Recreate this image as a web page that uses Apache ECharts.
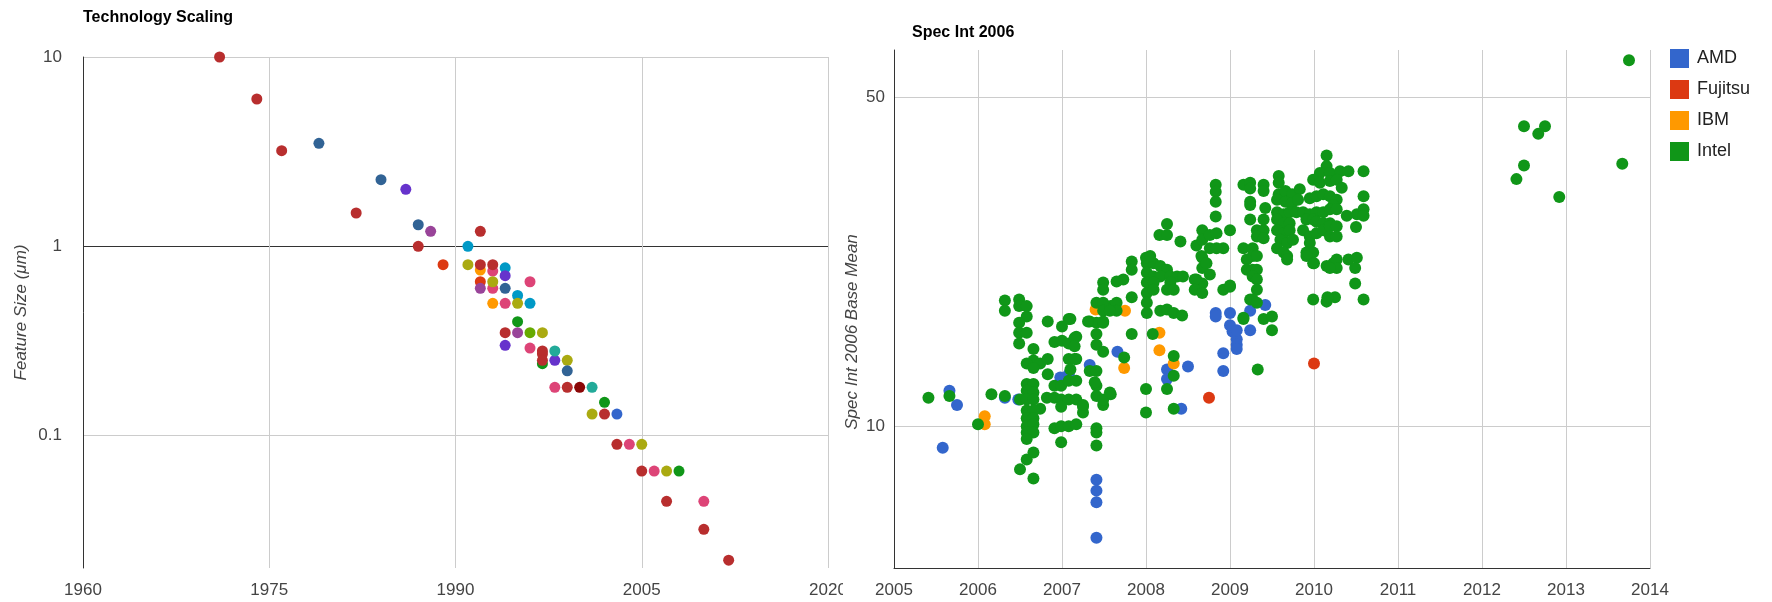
<!DOCTYPE html>
<html>
<head>
<meta charset="utf-8">
<script src="https://cdn.jsdelivr.net/npm/echarts@6/dist/echarts.min.js"></script>
<style>
  html, body { margin: 0; padding: 0; background: #fff; }
  .box { display: flex; width: 1772px; height: 602px; }
  #scaling { width: 843px; height: 602px; }
  #spec { width: 929px; height: 602px; }
</style>
</head>
<body>
<div class="box">
  <div id="scaling"></div>
  <div id="spec"></div>
</div>
<script>
// ---- Technology Scaling: [year, feature size in um], one array per colour ----
const green = [[1995, 0.4], [1997, 0.24], [2002, 0.15], [2008, 0.065]];
const orange = [[1992, 0.75], [1993, 0.5]];
const pink = [[1993, 0.74], [1993, 0.6], [1996, 0.65], [1994, 0.5], [1996, 0.29], [1998, 0.18], [2004, 0.09], [2006, 0.065], [2010, 0.045]];
const cyan = [[1991, 1.0], [1994, 0.77], [1995, 0.55], [1996, 0.5]];
const violet = [[1986, 2], [1994, 0.7], [1994, 0.3], [1998, 0.25]];
const redOrange = [[1989, 0.8], [1992, 0.65]];
const plum = [[1988, 1.2], [1992, 0.6], [1995, 0.35]];
const olive = [[1991, 0.8], [1993, 0.65], [1995, 0.5], [1997, 0.35], [1999, 0.25], [2001, 0.13], [2005, 0.09], [2007, 0.065]];
const steelBlue = [[1979, 3.5], [1984, 2.25], [1987, 1.3], [1994, 0.6], [1999, 0.22]];
const teal = [[1998, 0.28], [2001, 0.18]];
const lime = [[1996, 0.35]];
const maroon = [[2000, 0.18]];
const blue = [[2003, 0.13]];
const darkRed = [[1971, 10], [1974, 6], [1976, 3.2], [1982, 1.5], [1987, 1.0], [1992, 1.2], [1992, 0.8], [1993, 0.8],
  [1994, 0.35], [1997, 0.28], [1997, 0.27], [1997, 0.25], [1999, 0.18], [2002, 0.13], [2003, 0.09], [2005, 0.065],
  [2007, 0.045], [2010, 0.032], [2012, 0.022]];

const scalingTicks = [0.1, 1, 10];

// ---- Spec Int 2006: [year, base mean] ----
const amd = [[2005.58, 9.0], [2005.66, 11.9], [2005.75, 11.1], [2006.32, 11.5], [2006.48, 11.4], [2006.98, 12.7],
  [2007.08, 12.9], [2007.33, 13.5], [2007.41, 7.7], [2007.41, 7.3], [2007.41, 6.9], [2007.41, 5.8], [2007.66, 14.4],
  [2008.25, 13.2], [2008.25, 12.6], [2008.42, 10.9], [2008.5, 13.4], [2008.83, 17.4], [2008.83, 17.1], [2008.92, 14.3],
  [2008.92, 13.1], [2009.0, 17.4], [2009.0, 16.4], [2009.03, 15.9], [2009.08, 15.3], [2009.08, 14.9], [2009.08, 14.6],
  [2009.08, 16.0], [2009.24, 17.6], [2009.24, 16.0], [2009.42, 18.1]];
const fujitsu = [[2008.75, 11.5], [2010.0, 13.6]];
const ibm = [[2006.08, 10.5], [2006.08, 10.1], [2007.4, 17.7], [2007.75, 17.6], [2007.74, 13.3], [2008.16, 15.8],
  [2008.16, 14.5], [2008.33, 13.6]];
const intel = [
  [2005.41, 11.5], [2005.66, 11.6], [2006.0, 10.1], [2006.16, 11.7], [2006.32, 11.6],
  [2006.32, 18.5], [2006.32, 17.6], [2006.49, 18.6], [2006.49, 18.0], [2006.58, 18.0], [2006.58, 17.1], [2006.49, 16.6],
  [2006.49, 15.8], [2006.58, 15.8], [2006.49, 15.0],
  [2006.66, 14.6], [2006.66, 13.8], [2006.58, 13.6], [2006.74, 13.6], [2006.66, 13.3],
  [2006.58, 12.3], [2006.66, 12.3], [2006.58, 11.9], [2006.66, 11.8], [2006.5, 11.4], [2006.58, 11.4], [2006.66, 11.4],
  [2006.74, 10.9], [2006.58, 10.8], [2006.66, 10.8], [2006.58, 10.4], [2006.66, 10.4], [2006.58, 10.0], [2006.66, 10.1],
  [2006.58, 9.7], [2006.66, 9.7], [2006.58, 9.4], [2006.58, 8.5], [2006.66, 8.8], [2006.5, 8.1], [2006.66, 7.75],
  [2006.83, 16.7], [2006.83, 13.9], [2006.83, 12.9], [2006.91, 15.1], [2007.0, 15.2], [2007.08, 15.0], [2007.17, 15.5],
  [2007.08, 16.9], [2007.0, 16.3], [2007.08, 13.9], [2007.17, 13.9],
  [2006.82, 11.5], [2006.91, 11.5], [2006.99, 11.4], [2007.08, 11.4], [2007.17, 11.4], [2007.25, 11.0], [2007.25, 10.7],
  [2006.91, 12.2], [2006.99, 12.2], [2007.08, 12.5], [2007.17, 12.5], [2006.99, 11.0],
  [2006.91, 9.9], [2006.99, 10.0], [2007.08, 10.0], [2007.17, 10.1], [2006.99, 9.25],
  [2007.15, 15.4], [2007.15, 14.8], [2007.1, 16.9], [2007.15, 13.9], [2007.1, 13.2],
  [2007.41, 12.2], [2007.41, 11.6], [2007.49, 11.1], [2007.41, 9.9], [2007.41, 9.7], [2007.41, 9.1], [2007.33, 13.1],
  [2007.41, 13.1], [2007.33, 16.7], [2007.41, 16.6], [2007.49, 16.6], [2007.41, 15.7], [2007.41, 14.9], [2007.49, 14.4],
  [2007.58, 11.7], [2007.39, 12.4], [2007.49, 11.4], [2007.57, 11.8], [2007.25, 11.1],
  [2007.41, 18.3], [2007.49, 18.0], [2007.58, 18.0], [2007.65, 18.3], [2007.49, 18.3], [2007.65, 17.6], [2007.49, 17.6],
  [2007.57, 17.6], [2007.31, 16.7], [2007.49, 16.7], [2007.49, 20.2], [2007.49, 19.5], [2007.73, 20.5], [2007.65, 20.3],
  [2007.83, 15.7], [2007.74, 14.0], [2007.83, 22.4], [2007.83, 21.5], [2007.83, 18.8],
  [2008.0, 12.0], [2008.0, 10.7], [2008.08, 15.7], [2008.33, 14.1], [2008.25, 12.0], [2008.33, 12.8], [2008.33, 10.9],
  [2008.01, 22.2], [2008.09, 22.2], [2008.17, 21.9], [2008.25, 21.5], [2008.01, 21.2], [2008.09, 20.8], [2008.17, 20.8],
  [2008.29, 20.8], [2008.37, 20.8], [2008.44, 20.8], [2008.01, 20.2], [2008.09, 20.2], [2008.29, 20.2], [2008.01, 19.2],
  [2008.09, 19.5], [2008.25, 19.5], [2008.33, 19.5], [2008.01, 18.3], [2008.01, 17.4], [2008.17, 17.6], [2008.25, 17.7],
  [2008.33, 17.4], [2008.43, 17.2], [2008.0, 22.8], [2008.05, 23.0],
  [2008.25, 26.9], [2008.16, 25.5], [2008.25, 25.5], [2008.41, 24.7],
  [2008.83, 32.6], [2008.83, 31.5], [2008.83, 30.0], [2008.83, 27.9], [2009.0, 26.1], [2008.67, 26.1], [2008.6, 24.2],
  [2008.67, 24.9], [2008.76, 25.5], [2008.84, 25.7], [2008.92, 23.9], [2008.67, 22.8], [2008.67, 21.7], [2008.76, 21.0],
  [2008.67, 20.1], [2008.6, 20.5], [2009.0, 19.8], [2008.92, 19.5], [2008.66, 23.0], [2008.72, 22.2], [2008.76, 23.9],
  [2008.84, 23.9], [2008.58, 20.5], [2008.58, 19.5], [2008.67, 19.2],
  [2009.16, 32.6], [2009.24, 32.9], [2009.24, 32.0], [2009.4, 32.6], [2009.4, 31.6], [2009.24, 30.0], [2009.24, 29.5],
  [2009.42, 29.1], [2009.24, 27.5], [2009.4, 27.5], [2009.16, 23.9], [2009.2, 22.6], [2009.2, 21.5], [2009.16, 16.9],
  [2009.24, 18.6],
  [2009.32, 26.1], [2009.4, 26.1], [2009.32, 25.3], [2009.4, 25.1], [2009.27, 23.9], [2009.27, 23.0], [2009.32, 23.0],
  [2009.27, 21.5], [2009.32, 21.5], [2009.27, 20.8], [2009.32, 20.5], [2009.32, 19.5], [2009.27, 18.6], [2009.32, 18.3],
  [2009.0, 19.9], [2009.16, 17.0], [2009.4, 16.9], [2009.5, 17.1], [2009.5, 16.0], [2009.33, 13.2],
  [2009.58, 34.0], [2009.58, 32.9], [2009.58, 31.1], [2009.66, 31.6], [2009.74, 31.1], [2009.83, 31.9],
  [2009.56, 30.3], [2009.66, 30.0], [2009.74, 29.8], [2009.81, 30.3], [2009.95, 30.5], [2010.03, 30.8], [2010.11, 31.1],
  [2010.19, 30.8], [2010.27, 30.3], [2010.23, 29.5],
  [2009.56, 28.5], [2009.64, 28.2], [2009.71, 28.5], [2009.79, 28.5], [2009.87, 28.5], [2009.95, 28.2], [2010.03, 28.5],
  [2010.11, 28.5], [2010.19, 28.9], [2010.27, 28.9],
  [2009.56, 27.5], [2009.64, 27.0], [2009.71, 27.0], [2009.91, 27.5], [2009.99, 27.5], [2010.03, 27.2], [2010.11, 27.0],
  [2010.19, 27.0],
  [2009.56, 26.1], [2009.64, 25.7], [2009.71, 26.1], [2009.87, 26.1], [2009.95, 25.3], [2010.03, 25.7], [2010.11, 26.1],
  [2010.19, 26.6], [2010.27, 26.6], [2010.19, 25.3], [2010.27, 25.3],
  [2009.6, 24.9], [2009.68, 24.5], [2009.75, 24.9], [2009.95, 24.5], [2009.56, 23.9], [2009.64, 23.4], [2009.68, 23.0],
  [2009.91, 23.4], [2009.99, 23.4], [2009.91, 23.0], [2009.68, 22.6], [2009.99, 22.2], [2010.15, 21.9], [2010.23, 22.2],
  [2010.15, 37.6], [2010.15, 35.7], [2010.07, 34.5], [2010.19, 34.5], [2010.31, 34.8], [2010.41, 34.8], [2010.59, 34.8],
  [2009.99, 33.4], [2010.07, 32.9], [2010.19, 33.2], [2010.27, 33.4], [2010.33, 32.1],
  [2010.59, 30.8], [2010.39, 28.0], [2010.51, 28.2], [2010.59, 28.9], [2010.59, 28.0], [2010.5, 26.5], [2010.41, 22.6],
  [2010.51, 22.8], [2010.49, 21.7], [2010.49, 20.1], [2010.27, 22.6], [2010.27, 21.7], [2010.19, 21.7], [2010.0, 22.2],
  [2009.99, 18.6], [2010.15, 18.4], [2010.25, 18.8], [2010.59, 18.6], [2010.16, 18.8],
  [2012.5, 43.4], [2012.75, 43.4], [2012.67, 41.8], [2012.5, 35.8], [2012.41, 33.5], [2012.92, 30.7], [2013.75, 59.9],
  [2013.67, 36.1]
];

const specTicks = [10, 50];
const vendors = ['AMD', 'Fujitsu', 'IBM', 'Intel'];

const font = 'Liberation Sans, Arial, sans-serif';
const labelStyle = { fontFamily: font, fontSize: 17, color: '#444' };

// left chart
const scalingGroups = [
  { name: 'green', color: '#109618', data: green },
  { name: 'orange', color: '#ff9900', data: orange },
  { name: 'pink', color: '#dd4477', data: pink },
  { name: 'cyan', color: '#0099c6', data: cyan },
  { name: 'violet', color: '#6633cc', data: violet },
  { name: 'redOrange', color: '#dc3912', data: redOrange },
  { name: 'plum', color: '#994499', data: plum },
  { name: 'olive', color: '#aaaa11', data: olive },
  { name: 'steelBlue', color: '#316395', data: steelBlue },
  { name: 'teal', color: '#22aa99', data: teal },
  { name: 'lime', color: '#66aa00', data: lime },
  { name: 'maroon', color: '#8b0707', data: maroon },
  { name: 'blue', color: '#3366cc', data: blue },
  { name: 'darkRed', color: '#b82e2e', data: darkRed }
];

const scaling = echarts.init(document.getElementById('scaling'));
scaling.setOption({
  animation: false,
  title: {
    text: 'Technology Scaling', left: 78, top: 5,
    textStyle: { fontFamily: font, fontSize: 16, fontWeight: 'bold', color: '#000' }
  },
  grid: { left: 83, top: 57, width: 745, height: 511, outerBoundsMode: 'none' },
  xAxis: {
    type: 'value', min: 1960, max: 2020, interval: 15,
    axisLine: { show: false },
    axisTick: { show: false },
    axisLabel: Object.assign({ margin: 14, formatter: v => String(v) }, labelStyle),
    splitLine: { show: true, lineStyle: { color: '#ccc', width: 1 } }
  },
  yAxis: {
    type: 'log', min: 0.02, max: 10,
    name: 'Feature Size (μm)', nameLocation: 'middle', nameGap: 53, nameMoveOverlap: false,
    nameTextStyle: { fontFamily: font, fontSize: 17, fontStyle: 'italic', color: '#444' },
    axisLine: { show: true, onZero: false, lineStyle: { color: '#333', width: 1 } },
    axisTick: { show: false, customValues: scalingTicks },
    axisLabel: Object.assign({ margin: 21, customValues: scalingTicks, formatter: v => String(v) }, labelStyle),
    splitLine: { show: true, lineStyle: { color: ['#ccc', '#333', '#ccc'], width: 1 } }
  },
  series: scalingGroups.map(g => ({
    type: 'scatter', name: g.name, data: g.data, symbolSize: 11,
    itemStyle: { color: g.color, opacity: 1 }
  }))
});

// right chart
const spec = echarts.init(document.getElementById('spec'));
const vendorData = [amd, fujitsu, ibm, intel];
const vendorColors = ['#3366cc', '#dc3912', '#ff9900', '#109618'];
spec.setOption({
  animation: false,
  title: {
    text: 'Spec Int 2006', left: 64, top: 20,
    textStyle: { fontFamily: font, fontSize: 16, fontWeight: 'bold', color: '#000' }
  },
  legend: {
    orient: 'vertical', left: 822, top: 44, icon: 'rect',
    itemWidth: 19, itemHeight: 19, itemGap: 12,
    textStyle: { fontFamily: font, fontSize: 18, color: '#222', padding: [0, 0, 0, 3] },
    data: vendors
  },
  grid: { left: 51, top: 50, width: 756, height: 518, outerBoundsMode: 'none' },
  xAxis: {
    type: 'value', min: 2005, max: 2014, interval: 1,
    axisLine: { show: true, onZero: false, lineStyle: { color: '#333', width: 1 } },
    axisTick: { show: false },
    axisLabel: Object.assign({ margin: 14, formatter: v => String(v) }, labelStyle),
    splitLine: { show: true, lineStyle: { color: '#ccc', width: 1 } }
  },
  yAxis: {
    type: 'log', min: 5, max: 63,
    name: 'Spec Int 2006 Base Mean', nameLocation: 'middle', nameGap: 33, nameMoveOverlap: false,
    nameTextStyle: { fontFamily: font, fontSize: 17, fontStyle: 'italic', color: '#444', padding: [0, 46, 0, 0] },
    axisLine: { show: true, onZero: false, lineStyle: { color: '#333', width: 1 } },
    axisTick: { show: false, customValues: specTicks },
    axisLabel: Object.assign({ margin: 9, customValues: specTicks, formatter: v => String(v) }, labelStyle),
    splitLine: { show: true, lineStyle: { color: '#ccc', width: 1 } }
  },
  series: vendors.map((name, i) => ({
    type: 'scatter', name: name, data: vendorData[i], symbolSize: 12,
    itemStyle: { color: vendorColors[i], opacity: 1 }
  }))
});
</script>
</body>
</html>
